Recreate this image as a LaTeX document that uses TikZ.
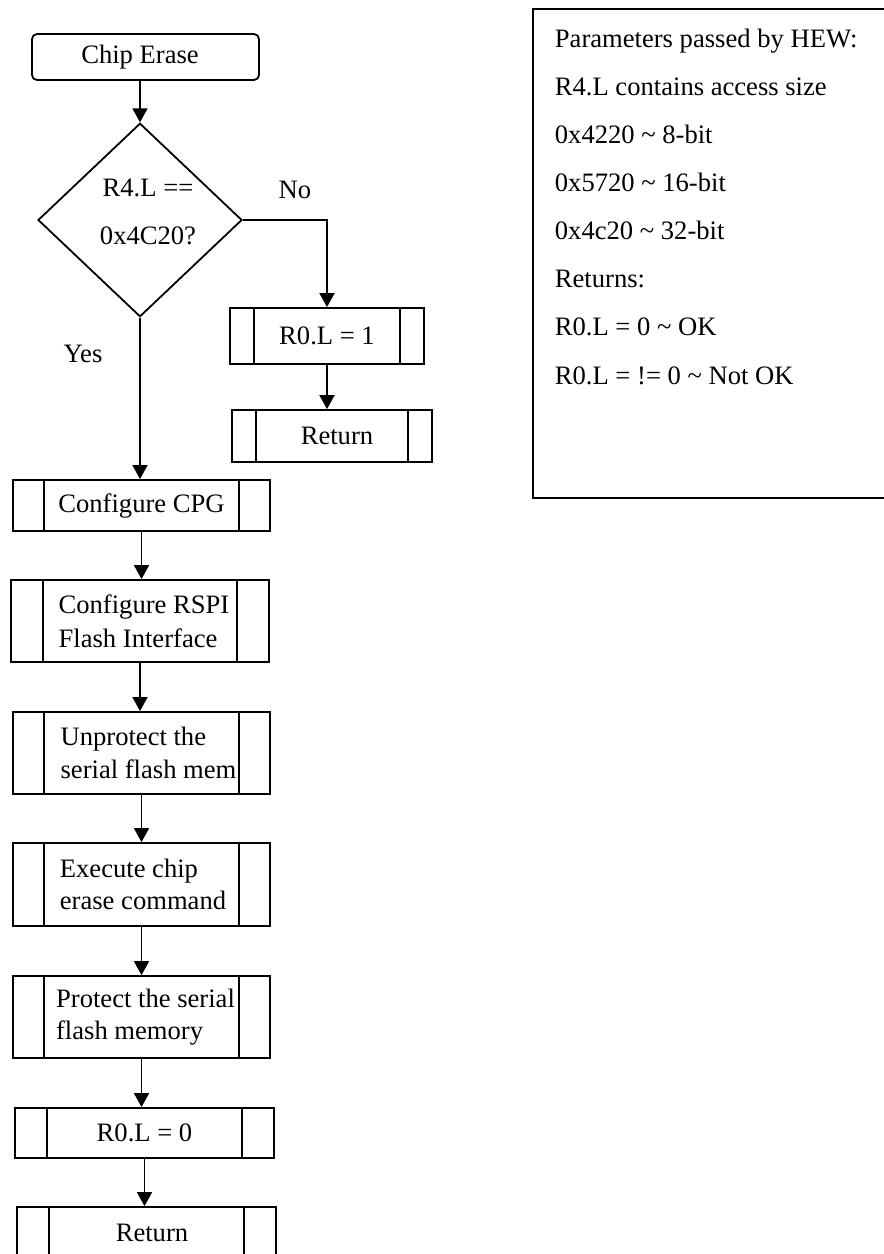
\documentclass[tikz,border=0pt]{standalone}
\usepackage{fontspec}
\setmainfont{Liberation Serif}
\usetikzlibrary{arrows.meta,shapes.geometric}
\begin{document}
\begin{tikzpicture}[x=0.5pt,y=-0.5pt, line width=0.9pt,
  every node/.style={font=\fontsize{13.3}{16}\selectfont, inner sep=0pt},
  arr/.style={-{Triangle[length=7pt,width=7.5pt]}},
  startbox/.style={draw, rectangle, rounded corners=2.5pt},
  sub/.style={draw, rectangle, path picture={\draw ([xshift=#1]path picture bounding box.north west) -- ([xshift=#1]path picture bounding box.south west) ([xshift=-#1]path picture bounding box.north east) -- ([xshift=-#1]path picture bounding box.south east);}},
  dia/.style={draw, diamond},
  infobox/.style={draw, rectangle}]
\useasboundingbox (0,0) rectangle (884,1254);
\clip (0,0) rectangle (884,1254);

% main flow
\node[startbox, minimum width=113.5pt, minimum height=23pt] (start) at (145.5,57) {Chip Erase\hspace*{5.5pt}};
\node[dia, minimum width=102pt, minimum height=95pt, align=center, font=\fontsize{13.3}{24}\selectfont] (dec) at (140,220) {\hspace*{8pt}R4.L ==\\\hspace*{8pt}0x4C20?\rule[-8pt]{0pt}{8pt}};
\node (no) at (295,190) {No};
\node[sub=12pt, minimum width=97pt, minimum height=28pt] (r1) at (327,336) {R0.L = 1};
\node[sub=12pt, minimum width=100pt, minimum height=26pt] (ret1) at (332,436) {\hspace*{5pt}Return};
\node (yes) at (83,354) {Yes};
\node[sub=15.5pt, minimum width=128.5pt, minimum height=25.5pt] (cpg) at (141.5,505.5) {Configure CPG};
\node[sub=16pt, minimum width=129pt, minimum height=41pt, align=left, font=\fontsize{13.3}{17}\selectfont] (rspi) at (140,621) {\hspace*{4pt}Configure RSPI\\\hspace*{4pt}Flash Interface};
\node[sub=15.5pt, minimum width=128.5pt, minimum height=41pt, align=left, font=\fontsize{13.3}{16.5}\selectfont] (unp) at (141.5,753) {\hspace*{7pt}Unprotect the\\\hspace*{7pt}serial flash mem};
\node[sub=15.5pt, minimum width=128.5pt, minimum height=41.5pt, align=left] (exe) at (141.5,884.5) {\hspace*{1.5pt}Execute chip\\\hspace*{1.5pt}erase command};
\node[sub=15.5pt, minimum width=128.5pt, minimum height=41pt, align=left] (pro) at (141.5,1017) {\hspace*{4pt}Protect the serial\\\hspace*{4pt}flash memory};
\node[sub=16pt, minimum width=129.5pt, minimum height=25pt] (r0) at (144.5,1133) {R0.L = 0};
\node[sub=16pt, minimum width=129.5pt, minimum height=26pt] (ret2) at (146.5,1233) {\hspace*{5.5pt}Return};

% info box
\node[infobox, minimum width=178.5pt, minimum height=244.5pt] (info) at (711.5,253.5) {};
\node[anchor=north west, align=left, font=\fontsize{13.3}{24.05}\selectfont] (infotext) at (554,28) {Parameters passed by HEW:\\R4.L contains access size\\0x4220 \textasciitilde{} 8-bit\\0x5720 \textasciitilde{} 16-bit\\0x4c20 \textasciitilde{} 32-bit\\Returns:\\R0.L = 0 \textasciitilde{} OK\\R0.L = != 0 \textasciitilde{} Not OK};

% connectors
\draw[arr] (start.south -| dec.north) -- (dec.north);
\draw[arr] (dec.east) -| (r1.north);
\draw[arr] (r1.south) -- (r1.south |- ret1.north);
\draw[arr] (dec.south) -- (dec.south |- cpg.north);
\draw[arr] (cpg.south) -- (cpg.south |- rspi.north);
\draw[arr] (rspi.south) -- (rspi.south |- unp.north);
\draw[arr] (unp.south) -- (unp.south |- exe.north);
\draw[arr] (exe.south) -- (exe.south |- pro.north);
\draw[arr] (pro.south) -- (pro.south |- r0.north);
\draw[arr] (r0.south) -- (r0.south |- ret2.north);
\end{tikzpicture}
\end{document}
